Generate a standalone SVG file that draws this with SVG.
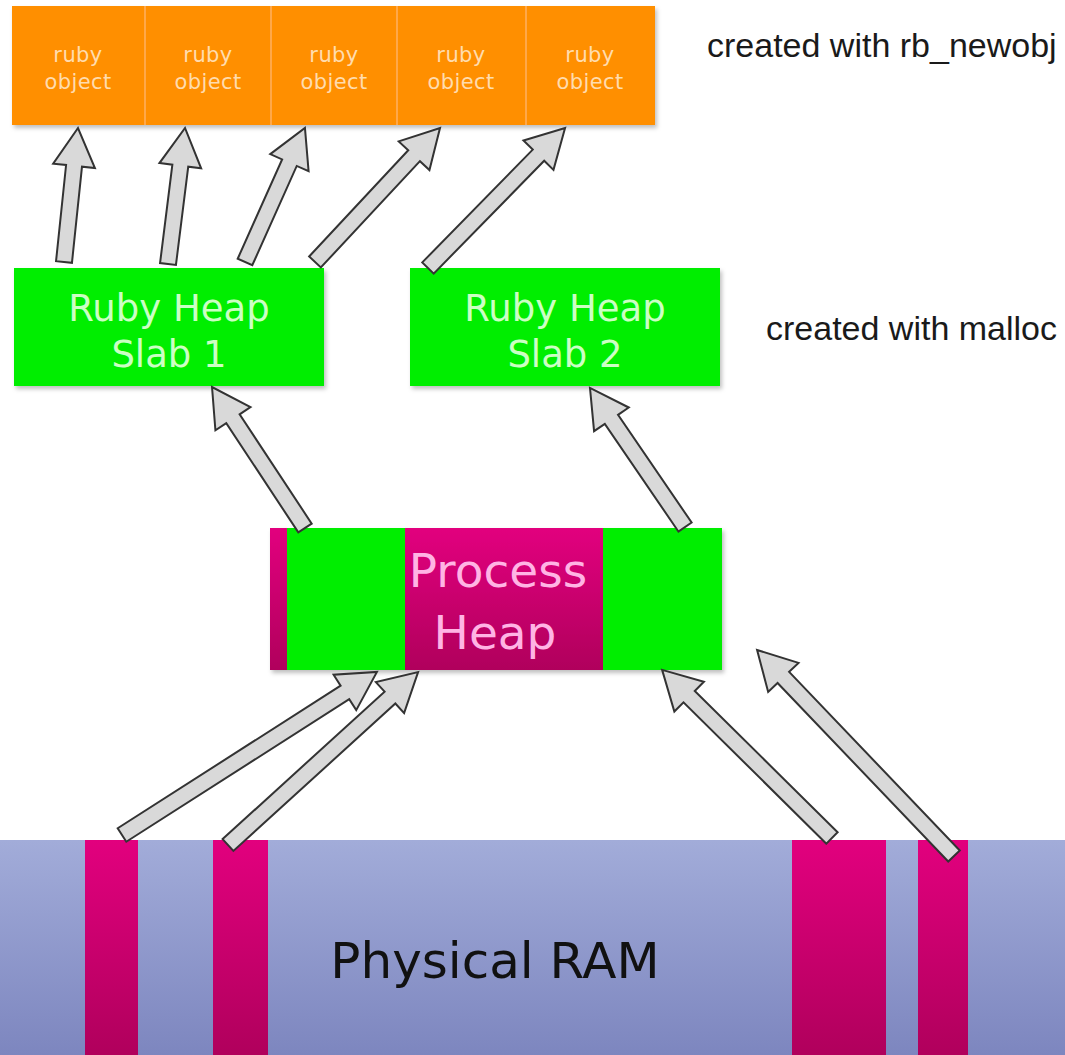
<svg xmlns="http://www.w3.org/2000/svg" width="1065" height="1055" viewBox="0 0 1065 1055">
<defs>
<style>
.obj{fill:#ff8f00;}
.objtxt{font-family:"DejaVu Sans",Verdana,sans-serif;font-size:21px;fill:#ffdcae;text-anchor:middle;letter-spacing:0.4px;}
.slab{fill:#00ee00;}
.slabtxt{font-family:"DejaVu Sans",Verdana,sans-serif;font-size:37px;fill:#ccffc4;text-anchor:middle;}
.note{font-family:"Liberation Sans",Arial,sans-serif;font-size:34px;fill:#1a1a1a;}
.arrow{fill:#d9d9d9;stroke:#333;stroke-width:2;stroke-linejoin:miter;}
.phtxt{font-family:"DejaVu Sans",Verdana,sans-serif;font-size:47px;fill:#ffb4e4;text-anchor:middle;}
.ramtxt{font-family:"DejaVu Sans",Verdana,sans-serif;font-size:50px;fill:#111;text-anchor:middle;}
</style>
<linearGradient id="mag" x1="0" y1="0" x2="0" y2="1">
<stop offset="0" stop-color="#e2007e"/>
<stop offset="1" stop-color="#b0005c"/>
</linearGradient>
<linearGradient id="ram" x1="0" y1="0" x2="0" y2="1">
<stop offset="0" stop-color="#a2acd9"/>
<stop offset="1" stop-color="#7d86bf"/>
</linearGradient>
<filter id="sh" x="-5%" y="-5%" width="115%" height="120%">
<feDropShadow dx="2" dy="3" stdDeviation="2" flood-color="#000" flood-opacity="0.25"/>
</filter>
</defs>
<rect width="1065" height="1055" fill="#ffffff"/>

<g id="ruby-objects" filter="url(#sh)">
<rect class="obj" x="12" y="6" width="643" height="119"/>
<g stroke="#ffb060" stroke-width="1.5">
<line x1="145" y1="6" x2="145" y2="125"/>
<line x1="271" y1="6" x2="271" y2="125"/>
<line x1="397" y1="6" x2="397" y2="125"/>
<line x1="526" y1="6" x2="526" y2="125"/>
</g>
</g>
<g id="obj1"><text class="objtxt" x="78" y="62">ruby</text><text class="objtxt" x="78" y="89">object</text></g>
<g id="obj2"><text class="objtxt" x="208" y="62">ruby</text><text class="objtxt" x="208" y="89">object</text></g>
<g id="obj3"><text class="objtxt" x="334" y="62">ruby</text><text class="objtxt" x="334" y="89">object</text></g>
<g id="obj4"><text class="objtxt" x="461" y="62">ruby</text><text class="objtxt" x="461" y="89">object</text></g>
<g id="obj5"><text class="objtxt" x="590" y="62">ruby</text><text class="objtxt" x="590" y="89">object</text></g>

<g id="note-newobj"><text class="note" x="707" y="57">created with rb_newobj</text></g>
<g id="note-malloc"><text class="note" x="766" y="340">created with malloc</text></g>

<g id="slab1">
<rect class="slab" x="14" y="268" width="310" height="118" filter="url(#sh)"/>
<text class="slabtxt" x="169" y="321">Ruby Heap</text>
<text class="slabtxt" x="169" y="367">Slab 1</text>
</g>
<g id="slab2">
<rect class="slab" x="410" y="268" width="310" height="118" filter="url(#sh)"/>
<text class="slabtxt" x="565" y="321">Ruby Heap</text>
<text class="slabtxt" x="565" y="367">Slab 2</text>
</g>

<g id="process-heap">
<rect x="270" y="528" width="452" height="142" fill="url(#mag)" filter="url(#sh)"/>
<rect class="slab" x="287" y="528" width="118" height="142"/>
<rect class="slab" x="603" y="528" width="119" height="142"/>
<text class="phtxt" x="498" y="587">Process</text>
<text class="phtxt" x="495" y="649">Heap</text>
</g>

<g id="physical-ram">
<rect x="0" y="840" width="1065" height="215" fill="url(#ram)"/>
<rect x="85" y="840" width="53" height="215" fill="url(#mag)"/>
<rect x="213" y="840" width="55" height="215" fill="url(#mag)"/>
<rect x="792" y="840" width="94" height="215" fill="url(#mag)"/>
<rect x="918" y="840" width="50" height="215" fill="url(#mag)"/>
<text class="ramtxt" x="495" y="978">Physical RAM</text>
</g>

<g id="connectors">
<path class="arrow" transform="translate(64,262) rotate(-84.04)" d="M0,-8 H96.7 V-21 L134.7,0 L96.7,21 V8 H0 Z"/>
<path class="arrow" transform="translate(168,264) rotate(-82.87)" d="M0,-8 H99.1 V-21 L137.1,0 L99.1,21 V8 H0 Z"/>
<path class="arrow" transform="translate(245,262) rotate(-65.9)" d="M0,-8 H108.8 V-21 L146.8,0 L108.8,21 V8 H0 Z"/>
<path class="arrow" transform="translate(315,262) rotate(-47.0)" d="M0,-8 H145.3 V-21 L183.3,0 L145.3,21 V8 H0 Z"/>
<path class="arrow" transform="translate(428,268) rotate(-45.6)" d="M0,-8 H157.9 V-21 L195.9,0 L157.9,21 V8 H0 Z"/>
<path class="arrow" transform="translate(305,528) rotate(-123.4)" d="M0,-8 H130.9 V-21 L168.9,0 L130.9,21 V8 H0 Z"/>
<path class="arrow" transform="translate(685,527) rotate(-124.35)" d="M0,-8 H130.4 V-21 L168.4,0 L130.4,21 V8 H0 Z"/>
<path class="arrow" transform="translate(122,835) rotate(-32.6)" d="M0,-8 H264.6 V-21 L302.6,0 L264.6,21 V8 H0 Z"/>
<path class="arrow" transform="translate(228,845) rotate(-42.3)" d="M0,-8 H219 V-21 L257,0 L219,21 V8 H0 Z"/>
<path class="arrow" transform="translate(832,838) rotate(-135.3)" d="M0,-8 H201 V-21 L239,0 L201,21 V8 H0 Z"/>
<path class="arrow" transform="translate(954,856) rotate(-133.7)" d="M0,-8 H247 V-21 L285,0 L247,21 V8 H0 Z"/>
</g>
</svg>
